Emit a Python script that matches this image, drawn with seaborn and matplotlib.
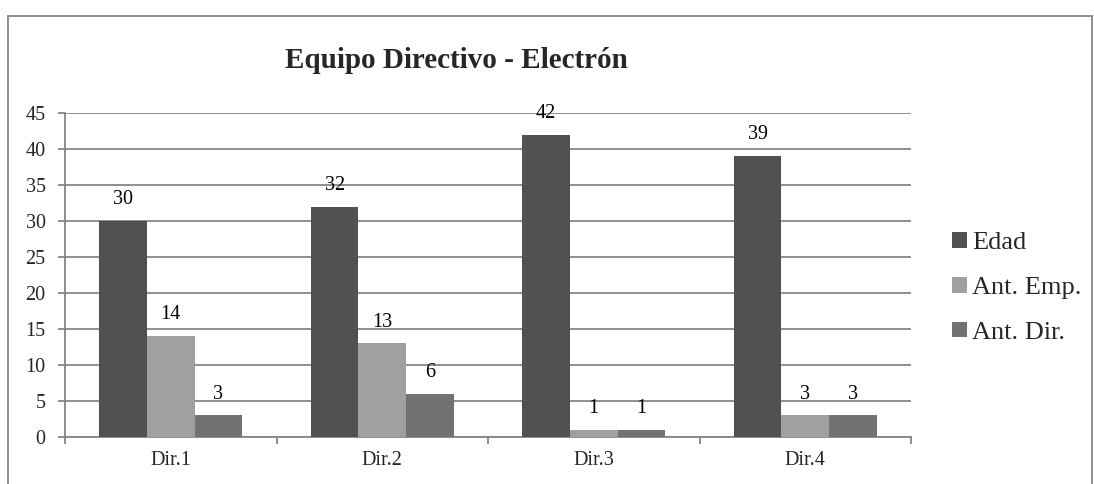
import matplotlib
matplotlib.use("Agg")
import matplotlib.pyplot as plt
from matplotlib.lines import Line2D
from matplotlib.patches import Patch
import seaborn as sns
import pandas as pd

# data
directores = ["Dir.1", "Dir.2", "Dir.3", "Dir.4"]
series = ["Edad", "Ant. Emp.", "Ant. Dir."]
edad = [30, 32, 42, 39]
ant_emp = [14, 13, 1, 3]
ant_dir = [3, 6, 1, 3]
colores = ["#515151", "#a0a0a0", "#727272"]

df = pd.DataFrame({
    "Director": directores * 3,
    "Serie": [s for s in series for _ in directores],
    "Valor": edad + ant_emp + ant_dir,
})

sns.set_style("white")
plt.rcParams["font.family"] = ["Liberation Serif", "DejaVu Serif"]

fig = plt.figure(figsize=(10.94, 4.84), dpi=100)
ax = fig.add_axes([65 / 1094, 47 / 484, (911 - 65) / 1094, (437 - 113) / 484])

sns.barplot(data=df, x="Director", y="Valor", hue="Serie", order=directores,
            hue_order=series, palette=colores, width=0.676, saturation=1,
            edgecolor="none", linewidth=0, legend=False, ax=ax, zorder=3)

# data labels
for cont in ax.containers:
    for bar in cont:
        h = bar.get_height()
        ax.annotate(f"{h:g}", (bar.get_x() + bar.get_width() / 2, h),
                    xytext=(0, 8.5), textcoords="offset points",
                    ha="center", va="bottom", fontsize=14.5, color="black")

ax.set_ylim(0, 45)
ax.set_yticks(range(0, 46, 5))
ax.set_xlim(-0.5, 3.5)
ax.set_xlabel("")
ax.set_ylabel("")
ax.yaxis.grid(True, color="#868686", linewidth=1.3, zorder=0)
ax.xaxis.grid(False)
for side in ["top", "right"]:
    ax.spines[side].set_visible(False)
for side in ["left", "bottom"]:
    ax.spines[side].set_color("#868686")
    ax.spines[side].set_linewidth(1.3)

ax.tick_params(axis="y", which="major", direction="out", length=5, width=1.3,
               color="#868686", labelsize=14.5, left=True, pad=9)
ax.tick_params(axis="x", which="major", length=0, labelsize=14.5, pad=10)
ax.set_xticks([-0.5, 0.5, 1.5, 2.5, 3.5], minor=True)
ax.tick_params(axis="x", which="minor", direction="out", length=5, width=1.3,
               color="#868686", bottom=True)

handles = [Patch(facecolor=c, edgecolor="none") for c in colores]
fig.legend(handles, series, loc="center left",
           bbox_to_anchor=(952 / 1094, (484 - 288) / 484), frameon=False,
           fontsize=19, handlelength=0.55, handleheight=0.55, handletextpad=0.2,
           labelspacing=0.85, borderpad=0, borderaxespad=0)

fig.text(456 / 1094, (484 - 61) / 484, "Equipo Directivo - Electrón",
         ha="center", va="center", fontsize=21, fontweight="bold")

# outer chart frame
for xs, ys in [((8, 8), (16, 484)), ((8, 1092), (16, 16)), ((1092, 1092), (16, 484))]:
    fig.add_artist(Line2D([x / 1094 for x in xs], [1 - y / 484 for y in ys],
                          color="#868686", linewidth=1.3))

fig.savefig("out.png", dpi=100)
